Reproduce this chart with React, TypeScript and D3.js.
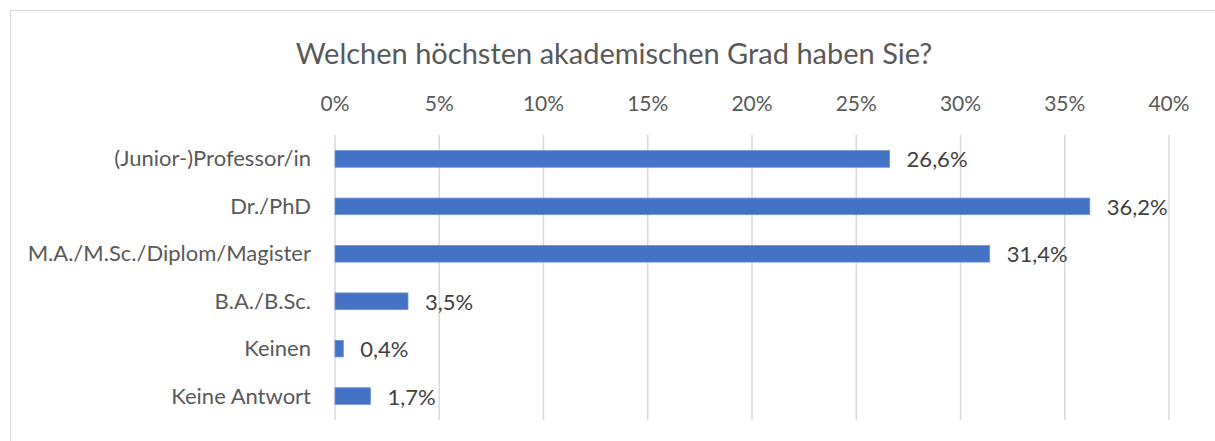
import { useEffect, useRef } from "react";
import * as d3 from "d3";

const categories = [
  "(Junior-)Professor/in",
  "Dr./PhD",
  "M.A./M.Sc./Diplom/Magister",
  "B.A./B.Sc.",
  "Keinen",
  "Keine Antwort",
];
const values = [26.6, 36.2, 31.4, 3.5, 0.4, 1.7];
const xTicks = [0, 5, 10, 15, 20, 25, 30, 35, 40];
const title = "Welchen höchsten akademischen Grad haben Sie?";

export default function App() {
  const svgRef = useRef<SVGSVGElement>(null);

  useEffect(() => {
    if (!svgRef.current) return;
    const svg = d3.select(svgRef.current);
    svg.selectAll("*").remove();

    const width = 1215;
    const height = 441;
    const margin = { top: 135, right: 46, bottom: 21, left: 335 };
    const font = "Lato, 'Open Sans', sans-serif";
    const textColor = "#595959";

    // Chart border
    svg
      .append("rect")
      .attr("x", 10.5)
      .attr("y", 10.5)
      .attr("width", width + 20)
      .attr("height", height + 20)
      .attr("fill", "white")
      .attr("stroke", "#d9d9d9")
      .attr("stroke-width", 1);

    const x = d3
      .scaleLinear()
      .domain([0, 40])
      .range([margin.left, width - margin.right]);

    const y = d3
      .scaleBand()
      .domain(categories)
      .range([margin.top, height - margin.bottom])
      .paddingInner(0.65)
      .paddingOuter(0.33);

    // Gridlines
    svg
      .append("g")
      .selectAll("line")
      .data(xTicks)
      .enter()
      .append("line")
      .attr("x1", d => x(d))
      .attr("x2", d => x(d))
      .attr("y1", margin.top)
      .attr("y2", height - margin.bottom)
      .attr("stroke", "#d9d9d9")
      .attr("stroke-width", 1.5);

    // Top tick labels
    svg
      .append("g")
      .selectAll("text")
      .data(xTicks)
      .enter()
      .append("text")
      .attr("x", d => x(d))
      .attr("y", 111)
      .attr("text-anchor", "middle")
      .attr("font-family", font)
      .attr("font-size", "21px")
      .attr("fill", textColor)
      .text(d => `${d}%`);

    // Bars
    svg
      .append("g")
      .selectAll("rect")
      .data(values)
      .enter()
      .append("rect")
      .attr("x", x(0))
      .attr("y", (_, i) => y(categories[i]) as number)
      .attr("width", d => x(d) - x(0))
      .attr("height", y.bandwidth())
      .attr("fill", "#4472c4")
      .attr("stroke", "#6d93d6")
      .attr("stroke-width", 0.8);

    // Value labels
    svg
      .append("g")
      .selectAll("text")
      .data(values)
      .enter()
      .append("text")
      .attr("x", d => x(d) + 17)
      .attr("y", (_, i) => (y(categories[i]) as number) + y.bandwidth() / 2 + 8.5)
      .attr("font-family", font)
      .attr("font-size", "22px")
      .attr("fill", "#404040")
      .text(d => `${d.toFixed(1).replace(".", ",")}%`);

    // Category labels
    svg
      .append("g")
      .selectAll("text")
      .data(categories)
      .enter()
      .append("text")
      .attr("x", margin.left - 24)
      .attr("y", d => (y(d) as number) + y.bandwidth() / 2 + 7.5)
      .attr("text-anchor", "end")
      .attr("font-family", font)
      .attr("font-size", "22px")
      .attr("fill", textColor)
      .text(d => d);

    // Title
    svg
      .append("text")
      .attr("x", 614)
      .attr("y", 64)
      .attr("text-anchor", "middle")
      .attr("font-family", font)
      .attr("font-size", "29px")
      .attr("fill", textColor)
      .text(title);
  }, []);

  return (
    <div style={{ position: "absolute", left: 0, top: 0 }}>
      <svg ref={svgRef} width={1215} height={441} style={{ display: "block" }} />
    </div>
  );
}
